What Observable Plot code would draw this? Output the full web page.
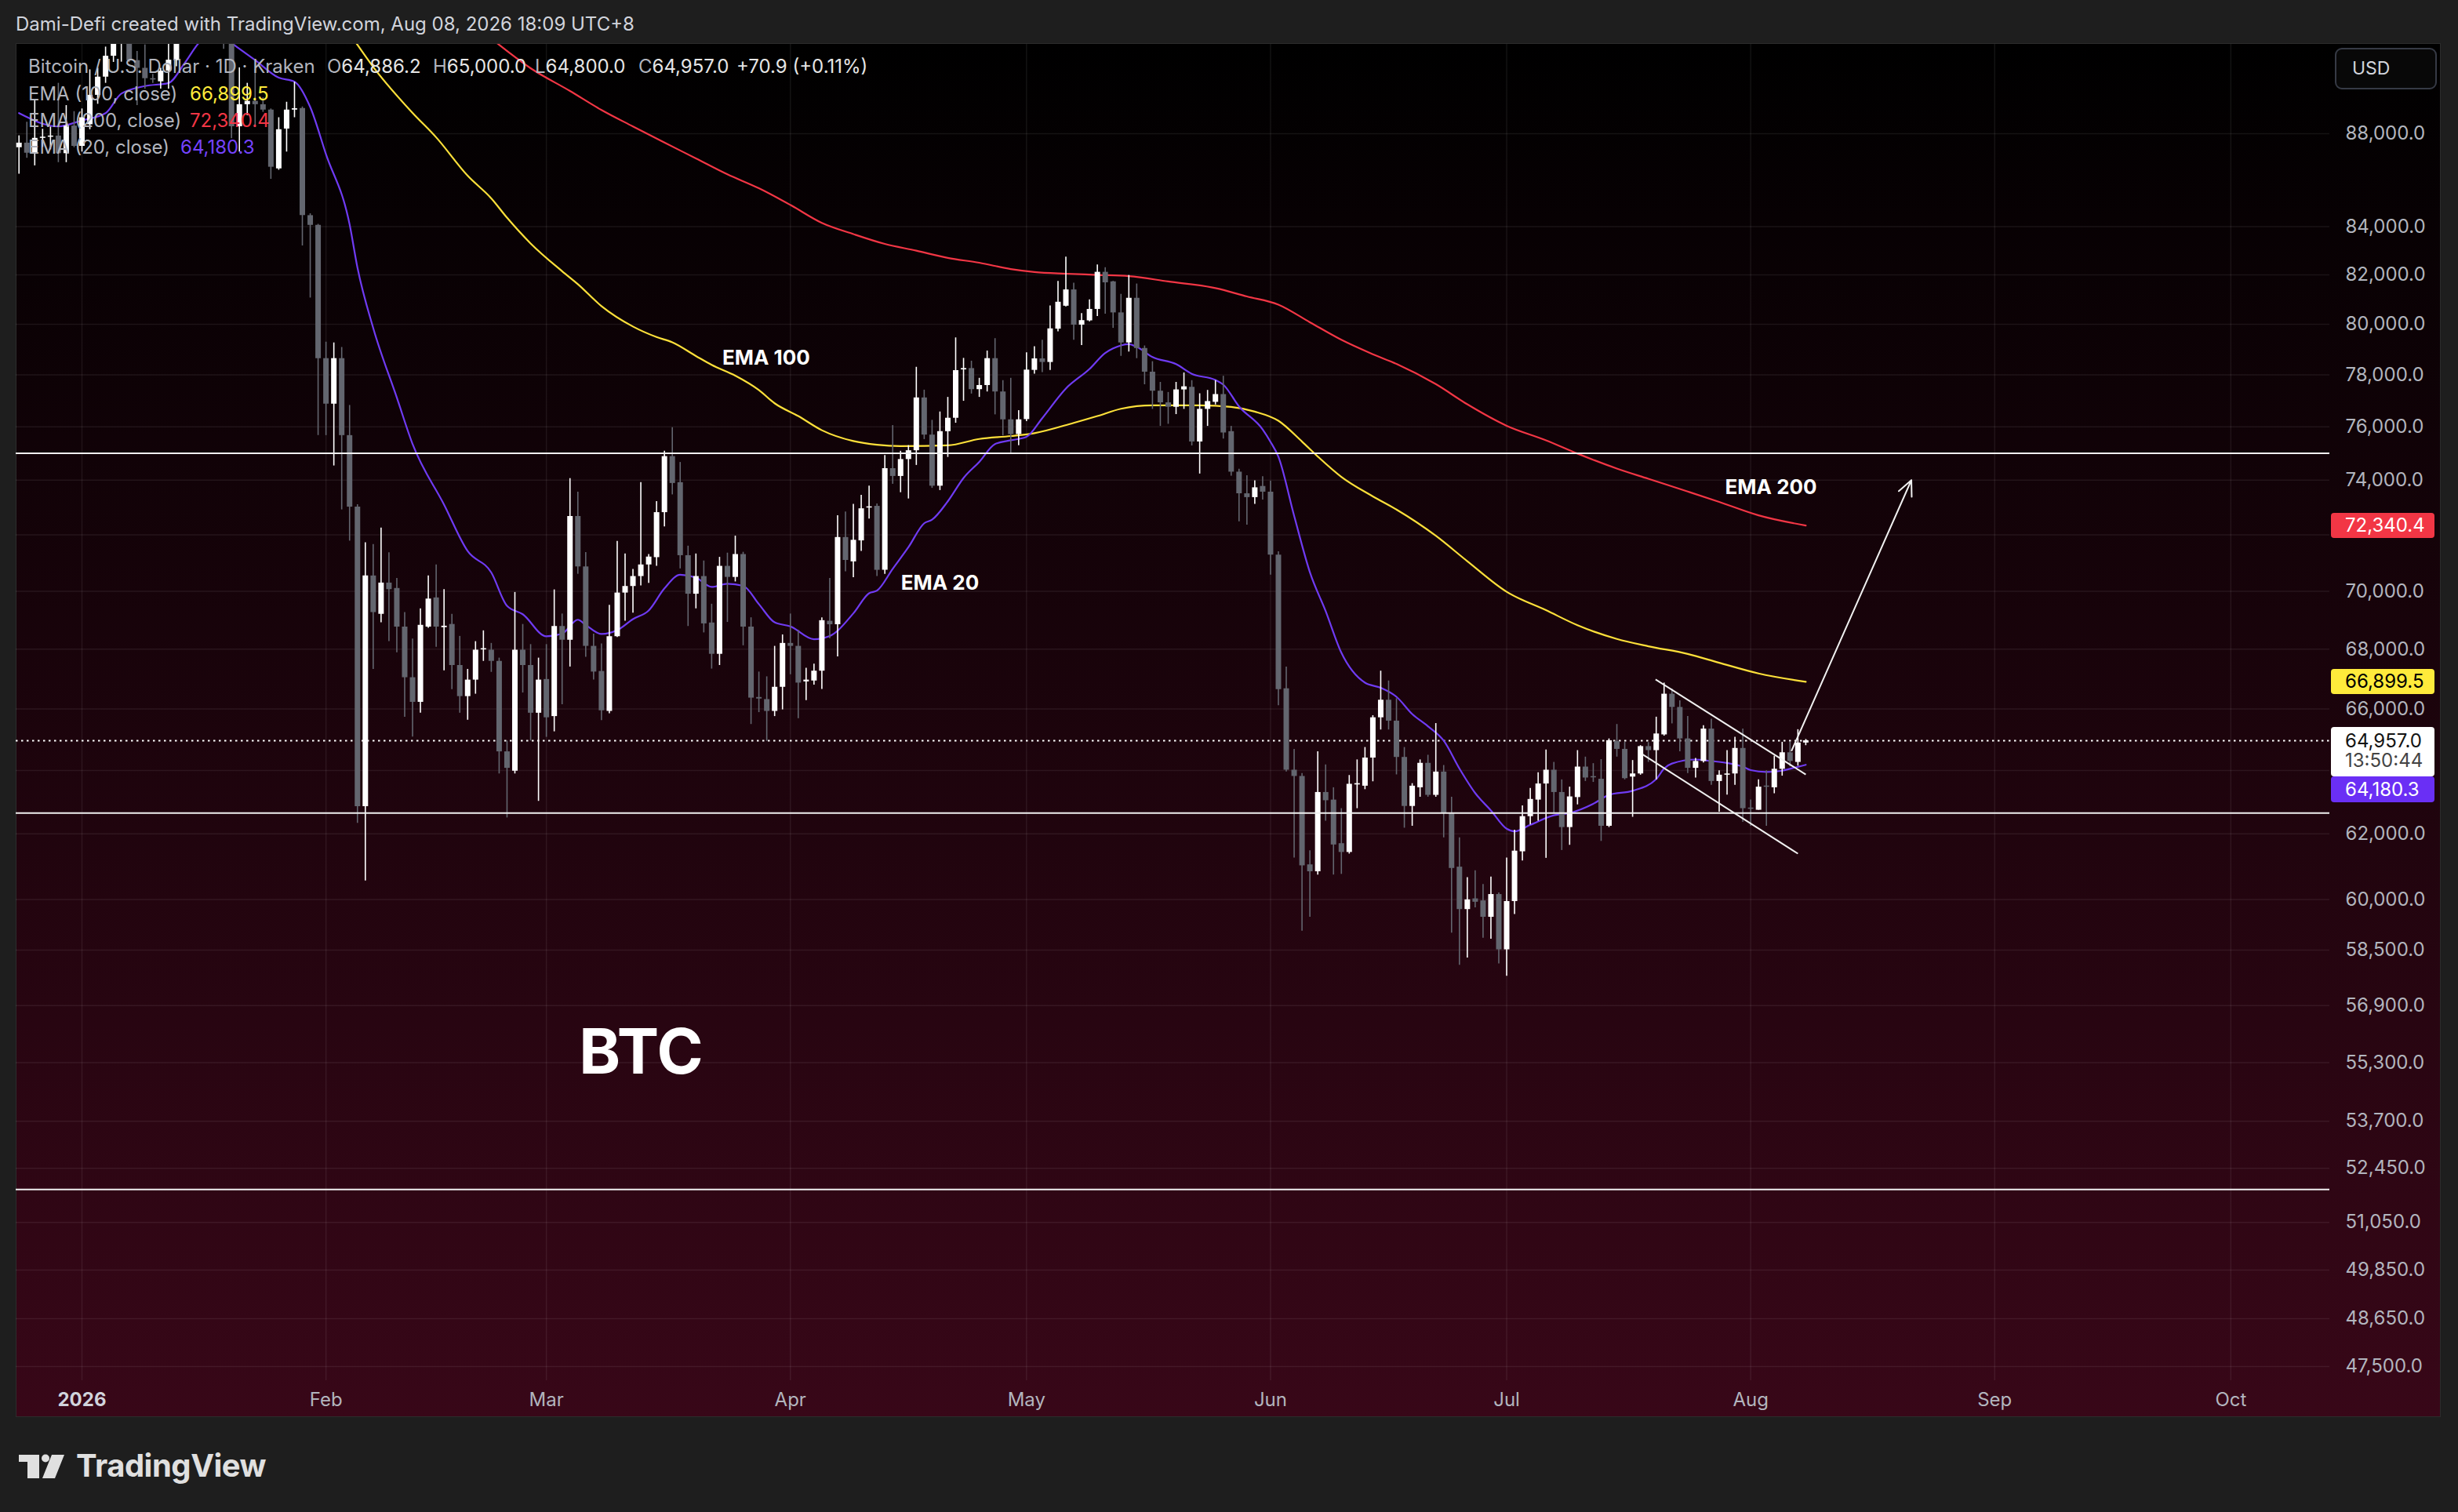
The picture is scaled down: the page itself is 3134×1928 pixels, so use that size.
<!DOCTYPE html>
<html>
<head>
<meta charset="utf-8">
<script src="https://cdn.jsdelivr.net/npm/d3@7"></script>
<script src="https://cdn.jsdelivr.net/npm/@observablehq/plot@0.6"></script>
<style>
html,body{margin:0;padding:0;background:#1e1e1e;}
body{width:3134px;height:1928px;position:relative;overflow:hidden;font-family:Inter,"Noto Sans",sans-serif;}
#topbar{position:absolute;left:20px;top:16px;font-size:24px;line-height:30px;color:#d1d4dc;white-space:nowrap;}
#pane{position:absolute;left:20px;top:55px;width:3092px;height:1752px;box-sizing:border-box;border:1px solid #2c2c2c;
  background:linear-gradient(180deg,#000000 0%,#380718 100%);}
#chart{position:absolute;left:0;top:0;}
.lg{position:absolute;font-size:24px;line-height:34px;white-space:nowrap;color:#b2b5be;}
.tag{position:absolute;left:2972px;width:132px;box-sizing:border-box;padding-left:18px;font-size:24px;border-radius:4px;white-space:nowrap;}
#usd{position:absolute;left:2977px;top:61px;width:130px;height:53px;box-sizing:border-box;border:2px solid #363a45;border-radius:9px;
  background:#080808;color:#d1d4dc;font-size:23px;line-height:49px;padding-left:20px;}
#logo{position:absolute;left:24px;top:1849px;}
#logotext{position:absolute;left:97px;top:1845px;font-size:40px;font-weight:700;color:#e0e0e0;letter-spacing:-0.5px;line-height:48px;}
</style>
</head>
<body>
<div id="topbar">Dami-Defi created with TradingView.com, Aug 08, 2026 18:09 UTC+8</div>
<div id="pane"></div>
<div id="chart"></div>
<div id="usd">USD</div>
<svg id="logo" width="70" height="40" viewBox="0 0 70 40">
  <rect x="0" y="6" width="26" height="9" fill="#e0e0e0"/>
  <rect x="11" y="6" width="15" height="30" fill="#e0e0e0"/>
  <circle cx="34" cy="10.5" r="5" fill="#e0e0e0"/>
  <polygon points="42,6 58,6 46,36 30,36" fill="#e0e0e0"/>
</svg>
<div id="logotext">TradingView</div>
<script>
// ---------- data ----------
const firstDay = "2025-12-24"; // first visible daily candle
const open = [
87390,87590,87150,87800,87850,87900,87130,88340,87450,88400,
89710,90530,91480,93200,94000,91280,90930,90460,90320,90800,
91280,93800,94700,96000,95600,96800,95100,93000,88310,89290,
89440,89290,89050,86470,88210,89050,89120,84470,84060,78640,
76870,78640,75670,73010,62850,70540,69200,70290,70100,68760,
67040,66220,68760,69770,68740,68850,67450,66410,66960,67990,
67970,67590,64600,63980,67970,67450,65860,66980,65750,68780,
68310,72670,70860,68100,67250,65920,68430,69940,70170,70520,
70930,71190,72810,74880,73910,71260,69900,70520,68900,67830,
70880,70490,71300,68760,66380,66310,65920,66720,68200,68100,
66900,66930,67260,68960,68840,71910,71040,71790,72980,73040,
70740,74430,74140,74770,75100,77110,75690,73780,75820,76330,
78200,78250,77430,77590,78640,77340,76270,75710,76280,78180,
78630,78490,79810,80730,81390,79970,80140,80600,82110,81720,
80460,79260,81050,79040,78110,77370,76920,76750,77420,77520,
75430,76670,76940,77240,75820,74300,73500,73360,73770,73560,
71280,66670,64010,63810,61050,60840,63300,63060,61700,61430,
63540,63500,64400,65710,66290,65600,64420,62860,63450,64230,
63210,63950,62640,60980,59700,60020,59960,59470,60150,58510,
59940,61450,62540,63060,63570,64010,63300,62200,63140,64110,
63800,63720,62240,64940,64680,63790,63890,64770,64640,65150,
66490,66050,65020,64070,64290,65340,63650,63850,63890,64710,
62800,62740,63500,63450,64040,64570,64260,64886.2];
const high = [
87910,88510,89510,88200,88300,90250,89250,88980,89100,90860,
90930,91900,93800,94500,94600,91700,92000,90650,90930,92500,
94000,95200,96500,97500,97200,97100,95600,93400,90950,90250,
90880,89600,89100,88710,89400,90300,89190,84550,84100,79290,
79260,79080,76820,73100,71720,71660,72250,71360,70450,69260,
68350,69390,70540,70930,70060,69200,68440,67320,68260,68630,
68200,67700,64950,69960,68850,68160,67700,68160,70050,69210,
74060,73560,71370,68520,68180,69510,71770,71320,70770,73910,
71300,73210,75080,75970,74660,71600,71320,71070,69550,71200,
71350,71960,71380,69080,67230,67070,68100,68490,69210,68640,
67360,67500,69080,70450,72700,72830,73110,73440,73780,73130,
74920,76050,75080,75290,78300,77410,76250,76570,77130,79460,
78650,78540,77870,78940,79430,77780,77870,76620,78870,79110,
79370,80740,81740,82740,81660,80430,80990,82410,82300,81740,
81210,81980,81630,79140,78520,77710,77320,77710,78080,77780,
77270,77400,77780,77950,76020,74410,74170,73980,74130,73960,
71400,67400,64680,63900,61480,64600,64180,63450,62790,63840,
64340,64740,65780,67260,66930,66340,64740,63580,64340,64490,
65520,64160,63150,61880,60660,60870,60450,60680,60200,61260,
62120,62880,63430,63930,64660,64260,63700,63470,64640,64430,
64220,64350,65020,65490,64910,64320,64800,64900,65730,66860,
66660,66270,65750,64390,65450,65660,63990,64640,65070,65340,
63060,63700,63990,64460,64910,64910,65320,65000];
const low = [
86240,86930,86600,87400,87300,86740,86740,87390,87200,88180,
89310,90250,91200,91210,91200,89250,89990,90250,89990,89990,
91000,93000,94000,95000,94800,94500,91800,87780,87200,88800,
88280,88950,86020,86410,87200,88710,83200,81060,75670,75670,
74530,72910,71780,62330,60560,67320,68910,68260,67880,65730,
65080,65860,68720,68070,67270,66640,65860,65630,66490,67590,
67220,63890,62500,63890,66530,64950,63020,65070,65250,66140,
67400,70600,67730,66960,65620,65840,68400,68960,69240,70190,
70280,70880,72290,73460,70790,68780,69390,68560,67330,67450,
68920,70330,68120,65490,65880,64940,65750,65970,67140,65680,
66280,66790,66650,68360,67740,70690,70480,71410,72580,70520,
70600,73850,73540,73310,74550,75520,73700,73620,74850,76140,
76980,77260,77130,77340,76460,75660,74970,75290,76200,78030,
78090,78180,79700,80700,79370,79160,80100,80310,80410,79840,
78730,78900,78640,77620,76670,76020,76100,76470,76670,75280,
74230,76020,76840,75540,74150,72480,72360,73110,73270,70570,
66110,63950,61260,59060,59470,60740,62400,60740,60760,61380,
62790,63390,63640,65310,65310,63860,62180,62240,63150,63150,
63150,61880,59000,58060,58270,59750,58850,58820,58100,57740,
59550,61170,62280,62400,61250,62630,61490,61650,62910,63650,
63620,61770,62200,64430,63700,62520,63850,64260,63700,65110,
65510,64600,63900,63760,64240,63530,62680,63220,63530,62360,
62240,62740,62240,63260,63820,64120,64140,64800];
const close = [
87590,87150,87800,87850,87900,87130,88340,87450,88710,89710,
90530,91480,93200,94000,91280,90930,90460,90400,90800,91300,
93800,94700,96000,95600,96800,95100,93000,88310,89290,89440,
89290,89050,86540,88180,89050,89110,84470,84060,78640,76870,
78640,75670,73010,62850,70540,69260,70290,70060,68760,67040,
66220,68820,69730,68760,68790,67450,66410,66960,67970,68010,
67590,64600,64070,67970,67450,65860,66960,65710,68780,68310,
72670,70860,68100,67230,65940,68430,69940,70170,70520,70930,
71210,72810,74880,73880,71260,69900,70520,68870,67830,70880,
70490,71300,68760,66360,66330,65920,66720,68200,68100,66860,
66960,67260,68980,68840,71910,71090,71810,72950,73020,70740,
74430,74140,74770,75100,77110,75690,73780,75820,76330,78170,
78250,77430,77590,78640,77340,76270,75710,76270,78190,78630,
78490,79820,80890,81390,79970,80150,80600,82110,81680,80460,
79260,81050,79040,78110,77370,76920,76750,77420,77540,75430,
76670,76970,77240,75770,74300,73500,73360,73720,73560,71280,
66640,64010,63810,61020,60840,63300,63040,61660,61430,63560,
63580,64400,65710,66290,65600,64420,62860,63500,64230,63210,
63950,62640,60940,59700,59990,59920,59470,60150,58510,59940,
61470,62540,63080,63570,64010,63300,62200,63160,64110,63760,
63770,62240,64960,64680,63740,63890,64770,64640,65180,66490,
66050,65020,64070,64290,65340,63650,63850,63890,64710,62790,
62780,63470,63470,64040,64570,64290,64886.1,64957];

const ema20Dates = ["2025-12-24","2025-12-29","2026-01-01","2026-01-04","2026-01-06","2026-01-09","2026-01-12","2026-01-14","2026-01-16","2026-01-18",
"2026-01-20","2026-01-23","2026-01-26","2026-01-28","2026-01-30","2026-02-01","2026-02-04","2026-02-05","2026-02-07","2026-02-10",
"2026-02-12","2026-02-16","2026-02-19","2026-02-22","2026-02-24","2026-02-26","2026-03-01","2026-03-03","2026-03-05","2026-03-06",
"2026-03-08","2026-03-10","2026-03-12","2026-03-14","2026-03-16","2026-03-18","2026-03-20","2026-03-22","2026-03-24","2026-03-26",
"2026-03-28","2026-03-30","2026-04-01","2026-04-04","2026-04-06","2026-04-09","2026-04-11","2026-04-12","2026-04-14","2026-04-16",
"2026-04-18","2026-04-19","2026-04-21","2026-04-23","2026-04-25","2026-04-27","2026-04-29","2026-05-01","2026-05-03","2026-05-06",
"2026-05-09","2026-05-11","2026-05-12","2026-05-14","2026-05-15","2026-05-17","2026-05-20","2026-05-22","2026-05-25","2026-05-26",
"2026-05-28","2026-05-31","2026-06-01","2026-06-02","2026-06-04","2026-06-06","2026-06-08","2026-06-10","2026-06-13","2026-06-15",
"2026-06-17","2026-06-19","2026-06-21","2026-06-23","2026-06-25","2026-06-27","2026-06-29","2026-07-01","2026-07-02","2026-07-04",
"2026-07-07","2026-07-09","2026-07-12","2026-07-14","2026-07-17","2026-07-20","2026-07-21","2026-07-22","2026-07-25","2026-07-27",
"2026-07-29","2026-07-31","2026-08-01","2026-08-03","2026-08-05","2026-08-06","2026-08-08"];
const ema20Values = [88910,88320,88590,88910,89780,90120,90260,91140,92150,92600,
92080,91300,90500,90320,89180,87100,84100,82300,79850,77120,
75350,73100,71420,70660,69490,69200,68440,68530,69010,68830,
68520,68650,69030,69330,70100,70580,70480,70150,70260,70190,
69550,68920,68780,68340,68450,69230,69930,70020,70790,71560,
72420,72550,73220,74080,74680,75350,75490,75620,76330,77470,
78230,78860,79040,79210,79100,78700,78420,78040,77800,77620,
76780,75900,75430,74870,72690,70670,69310,67880,66870,66700,
66400,65830,65430,64960,64060,63280,62730,62160,62080,62280,
62580,62650,62940,63220,63350,63720,64060,64220,64350,64300,
64240,64120,64010,63950,63990,64050,64180.3];

const ema100Dates = ["2026-01-31","2026-02-05","2026-02-07","2026-02-12","2026-02-15","2026-02-19","2026-02-22","2026-02-24","2026-02-27","2026-03-03",
"2026-03-05","2026-03-08","2026-03-12","2026-03-15","2026-03-17","2026-03-20","2026-03-22","2026-03-25","2026-03-28","2026-03-30",
"2026-04-02","2026-04-05","2026-04-09","2026-04-12","2026-04-15","2026-04-21","2026-04-25","2026-04-29","2026-05-02","2026-05-07",
"2026-05-10","2026-05-13","2026-05-17","2026-05-23","2026-05-27","2026-05-30","2026-06-02","2026-06-05","2026-06-07","2026-06-10",
"2026-06-14","2026-06-17","2026-06-22","2026-06-26","2026-07-01","2026-07-06","2026-07-10","2026-07-15","2026-07-19","2026-07-24",
"2026-07-28","2026-08-02","2026-08-08"];
const ema100Values = [94800,92000,90990,88920,87840,86170,85200,84380,83300,82150,
81620,80730,79910,79490,79280,78740,78390,77970,77410,76900,
76410,75870,75460,75320,75270,75300,75540,75650,75760,76150,
76410,76690,76820,76820,76760,76580,76230,75440,74880,74120,
73400,72920,71970,71060,69980,69340,68820,68350,68100,67840,
67540,67180,66899.5];

const ema200Dates = ["2026-02-15","2026-02-20","2026-02-23","2026-02-27","2026-03-04","2026-03-08","2026-03-12","2026-03-16","2026-03-20","2026-03-24",
"2026-03-28","2026-04-01","2026-04-05","2026-04-09","2026-04-13","2026-04-17","2026-04-21","2026-04-25","2026-04-29","2026-05-02",
"2026-05-06","2026-05-10","2026-05-14","2026-05-19","2026-05-25","2026-05-29","2026-06-02","2026-06-06","2026-06-10","2026-06-14",
"2026-06-17","2026-06-22","2026-06-26","2026-07-01","2026-07-06","2026-07-10","2026-07-15","2026-07-19","2026-07-24","2026-07-28",
"2026-08-02","2026-08-08"];
const ema200Values = [94000,92900,92000,90930,89900,89050,88320,87610,86920,86230,
85630,84920,84160,83690,83280,83000,82700,82500,82240,82120,
82050,82000,81950,81730,81460,81120,80790,80080,79380,78810,
78430,77640,76860,76040,75490,74990,74430,74050,73580,73200,
72710,72340.4];

// horizontal levels drawn on the chart, and the last price
const levelPrices = [75000, 62650, 51900];
const lastPrice = 64957.0;
// falling channel (start/end) and the breakout arrow
const channelStart = ["2026-07-19T22:00Z","2026-07-18T07:00Z"];
const channelStartPrice = [66980, 64510];
const channelEnd = ["2026-08-08T00:00Z","2026-08-07T00:00Z"];
const channelEndPrice = [63870, 61390];
const arrowFrom = ["2026-08-06T05:00Z", 64640];
const arrowTo = ["2026-08-21T10:00Z", 74000];
// text notes on the chart
const noteText = ["EMA 100","EMA 20","EMA 200"];
const noteDate = ["2026-03-28T22:00Z","2026-04-20T00:00Z","2026-08-03T14:00Z"];
const notePrice = [78665, 70290, 73740];
const bigLabel = {text: "BTC", date: "2026-03-13T01:00Z", price: 55560};

// axes
const gridPrices = [47500,48650,49850,51050,52450,53700,55300,56900,58500,60000,62000,64000,66000,68000,70000,72000,74000,76000,78000,80000,82000,84000,88000];
const axisPrices = [47500,48650,49850,51050,52450,53700,55300,56900,58500,60000,62000,66000,68000,70000,74000,76000,78000,80000,82000,84000,88000];
const monthTicks = ["2026-01-01","2026-02-01","2026-03-01","2026-04-01","2026-05-01","2026-06-01","2026-07-01","2026-08-01","2026-09-01","2026-10-01"];
const monthLabels = ["2026","Feb","Mar","Apr","May","Jun","Jul","Aug","Sep","Oct"];

// tag / legend values
const lastEma20 = 64180.3, lastEma100 = 66899.5, lastEma200 = 72340.4;
const countdown = "13:50:44";

// ---------- build ----------
const t0 = new Date(firstDay + "T00:00Z");
const candles = close.map((c, i) => ({date: d3.utcDay.offset(t0, i), o: open[i], h: high[i], l: low[i], c}));
const UP = "#ffffff", DOWN = "#63666f";
const col = d => d.c >= d.o ? UP : DOWN;
const bLo = d => { const lo = Math.min(d.o, d.c), hi = Math.max(d.o, d.c); return hi / lo < 1.0006 ? Math.sqrt(lo * hi) / 1.0003 : lo; };
const bHi = d => { const lo = Math.min(d.o, d.c), hi = Math.max(d.o, d.c); return hi / lo < 1.0006 ? Math.sqrt(lo * hi) * 1.0003 : hi; };
const toD = s => new Date(s.length === 10 ? s + "T00:00Z" : s);
const series = (ds, vs) => ds.map((d, i) => ({date: toD(d), v: vs[i]}));
const e20 = series(ema20Dates, ema20Values), e100 = series(ema100Dates, ema100Values), e200 = series(ema200Dates, ema200Values);
const channels = channelStart.map((s, i) => ({x1: toD(s), y1: channelStartPrice[i], x2: toD(channelEnd[i]), y2: channelEndPrice[i]}));
const arrow = [{x1: toD(arrowFrom[0]), y1: arrowFrom[1], x2: toD(arrowTo[0]), y2: arrowTo[1]}];
const notes = noteText.map((t, i) => ({t, date: toD(noteDate[i]), p: notePrice[i]}));
const fmt = d3.format(",.1f");
const FONT = "Inter, 'Noto Sans', sans-serif";

const chart = Plot.plot({
  width: 3134, height: 1928,
  marginTop: 56, marginBottom: 168, marginLeft: 20, marginRight: 164,
  x: {type: "utc", domain: [new Date("2025-12-23T15:07Z"), new Date("2026-10-13T13:41Z")], axis: null},
  y: {type: "log", domain: [47166, 92024], axis: null},
  style: {background: "transparent", fontFamily: FONT, overflow: "visible", maxWidth: "none"},
  marks: [
    Plot.ruleY(gridPrices, {stroke: "#ffffff", strokeOpacity: 0.075, strokeWidth: 1.5}),
    Plot.ruleX(monthTicks.map(toD), {stroke: "#ffffff", strokeOpacity: 0.075, strokeWidth: 1.5}),
    Plot.ruleY([lastPrice], {stroke: "#ffffff", strokeWidth: 2, strokeDasharray: "2.5,4.5"}),
    Plot.line(e200, {x: "date", y: "v", stroke: "#f23645", strokeWidth: 2.2, curve: "monotone-x", clip: true}),
    Plot.line(e100, {x: "date", y: "v", stroke: "#fde03a", strokeWidth: 2.2, curve: "monotone-x", clip: true}),
    Plot.line(e20, {x: "date", y: "v", stroke: "#6f3bf2", strokeWidth: 2.2, curve: "monotone-x", clip: true}),
    Plot.ruleX(candles, {x: "date", y1: "l", y2: "h", stroke: col, strokeWidth: 1.6, clip: true}),
    Plot.ruleX(candles, {x: "date", y1: bLo, y2: bHi, stroke: col, strokeWidth: 7, clip: true}),
    Plot.ruleY(levelPrices, {stroke: "#f0f0f0", strokeWidth: 2}),
    Plot.link(channels, {x1: "x1", y1: "y1", x2: "x2", y2: "y2", stroke: "#f0f0f0", strokeWidth: 2}),
    Plot.arrow(arrow, {x1: "x1", y1: "y1", x2: "x2", y2: "y2", stroke: "#f0f0f0", strokeWidth: 2, headLength: 16, headAngle: 50}),
    Plot.text(notes, {x: "date", y: "p", text: "t", fill: "#ffffff", fontSize: 26, fontWeight: 700, fontFamily: FONT}),
    Plot.text([bigLabel], {x: d => toD(d.date), y: "price", text: "text", fill: "#ffffff", fontSize: 80, fontWeight: 700, fontFamily: FONT}),
    Plot.text(axisPrices, {y: d => d, text: d => fmt(d), frameAnchor: "right", textAnchor: "start", dx: 20, fill: "#b2b5be", fontSize: 24, fontFamily: FONT}),
    Plot.text(monthTicks.slice(0, 1), {x: toD, text: (d, i) => monthLabels[0], frameAnchor: "bottom", dy: 32, fill: "#d1d4dc", fontSize: 24, fontWeight: 700, fontFamily: FONT}),
    Plot.text(monthTicks.slice(1), {x: toD, text: (d, i) => monthLabels[i + 1], frameAnchor: "bottom", dy: 32, fill: "#b2b5be", fontSize: 24, fontFamily: FONT})
  ]
});
document.getElementById("chart").appendChild(chart);

// price tags on the axis, placed through the y scale
const ys = chart.scale("y");
function tag(top, h, bg, fg, html) {
  const el = document.createElement("div");
  el.className = "tag";
  el.style.top = top + "px"; el.style.height = h + "px"; el.style.lineHeight = h + "px";
  el.style.background = bg; el.style.color = fg; el.innerHTML = html;
  document.body.appendChild(el);
  return el;
}
tag(ys.apply(lastEma200) - 16, 32, "#f23645", "#ffffff", fmt(lastEma200));
tag(ys.apply(lastEma100) - 16, 32, "#ffeb3b", "#000000", fmt(lastEma100));
const wTop = ys.apply(lastPrice) - 17;
const w = tag(wTop, 63, "#ffffff", "#131313", "");
w.style.lineHeight = "25px"; w.style.paddingTop = "5px";
w.innerHTML = fmt(lastPrice) + "<br><span style='color:#444'>" + countdown + "</span>";
tag(wTop + 63, 33, "#6a2ff5", "#ffffff", fmt(lastEma20));

// legend (top-left)
const last = candles[candles.length - 1];
const prevClose = candles[candles.length - 2].c;
const chg = last.c - prevClose;
function lg(x, y, html, color) {
  const el = document.createElement("div");
  el.className = "lg"; el.style.left = x + "px"; el.style.top = (y - 17) + "px";
  if (color) el.style.color = color;
  el.innerHTML = html; document.body.appendChild(el);
}
const V = s => "<span style='color:#e6e6e6'>" + s + "</span>";
lg(36, 85, "Bitcoin / U.S. Dollar · 1D · Kraken");
lg(417, 85, "O" + V(fmt(last.o)));
lg(552, 85, "H" + V(fmt(last.h)));
lg(682, 85, "L" + V(fmt(last.l)));
lg(814, 85, "C" + V(fmt(last.c)));
lg(939, 85, V("+" + chg.toFixed(1) + " (+" + (chg / prevClose * 100).toFixed(2) + "%)"));
lg(36, 120, "EMA (100, close)"); lg(242, 120, fmt(lastEma100), "#ffeb3b");
lg(36, 154, "EMA (200, close)"); lg(242, 154, fmt(lastEma200), "#f23645");
lg(36, 188, "EMA (20, close)");  lg(230, 188, fmt(lastEma20), "#7443ff");
</script>
</body>
</html>
